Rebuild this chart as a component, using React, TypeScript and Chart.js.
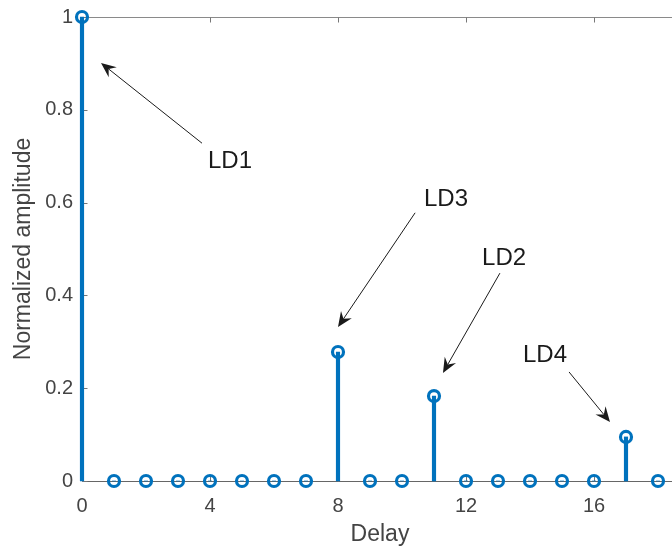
import { useEffect, useRef } from 'react';
import { Chart, registerables } from 'chart.js';

Chart.register(...registerables);

// ---- data ----
const delays = [0, 1, 2, 3, 4, 5, 6, 7, 8, 9, 10, 11, 12, 13, 14, 15, 16, 17, 18];
const amplitudes = [1, 0, 0, 0, 0, 0, 0, 0, 0.278, 0, 0, 0.183, 0, 0, 0, 0, 0, 0.095, 0];

const xTickValues = [0, 4, 8, 12, 16];
const yTickValues = [0, 0.2, 0.4, 0.6, 0.8, 1];
const yTickLabels = ['0', '0.2', '0.4', '0.6', '0.8', '1'];
const xLimits = [0, 18.625];
const yLimits = [0, 1];
const xTitle = 'Delay';
const yTitle = 'Normalized amplitude';

// annotations (data units)
const annotationLabels = ['LD1', 'LD3', 'LD2', 'LD4'];
const annotationTextX = [4.625, 11.375, 13.19, 14.47];
const annotationTextY = [0.692, 0.61, 0.481, 0.272];
const arrowTailX = [3.75, 10.41, 13.06, 15.22];
const arrowTailY = [0.728, 0.578, 0.448, 0.235];
const arrowTipX = [0.594, 8.0, 11.28, 16.5];
const arrowTipY = [0.901, 0.332, 0.233, 0.127];

const STEM = '#0072BD';
const FONT = "'Liberation Sans', Arial, Helvetica, sans-serif";

const axesPlugin = {
  id: 'matlabAxes',
  beforeDatasetsDraw(chart: any) {
    const { ctx, chartArea } = chart;
    const xs = chart.scales.x;
    const ys = chart.scales.y;
    const L = Math.round(chartArea.left) + 0.5;
    const R = Math.round(chartArea.right) - 0.5;
    const T = Math.round(chartArea.top) + 0.5;
    const B = Math.round(chartArea.bottom) + 0.5;
    ctx.save();
    ctx.lineWidth = 1;
    ctx.strokeStyle = '#8a8a8a';
    ctx.beginPath();
    ctx.moveTo(L, T);
    ctx.lineTo(R, T);
    ctx.lineTo(R, B);
    ctx.stroke();
    ctx.strokeStyle = '#666666';
    ctx.beginPath();
    ctx.moveTo(L, T);
    ctx.lineTo(L, B);
    ctx.lineTo(R, B);
    ctx.stroke();
    const tl = 5;
    ctx.strokeStyle = '#777777';
    ctx.beginPath();
    xTickValues.forEach((v) => {
      const px = Math.round(xs.getPixelForValue(v)) + 0.5;
      ctx.moveTo(px, B);
      ctx.lineTo(px, B - tl);
      ctx.moveTo(px, T);
      ctx.lineTo(px, T + tl);
    });
    yTickValues.forEach((v) => {
      const py = Math.round(ys.getPixelForValue(v)) + 0.5;
      ctx.moveTo(L, py);
      ctx.lineTo(L + tl, py);
      ctx.moveTo(R, py);
      ctx.lineTo(R - tl, py);
    });
    ctx.stroke();
    ctx.restore();
  },
  afterDraw(chart: any) {
    const { ctx } = chart;
    const xs = chart.scales.x;
    const ys = chart.scales.y;
    ctx.save();
    annotationLabels.forEach((label, i) => {
      const x0 = xs.getPixelForValue(arrowTailX[i]);
      const y0 = ys.getPixelForValue(arrowTailY[i]);
      const x1 = xs.getPixelForValue(arrowTipX[i]);
      const y1 = ys.getPixelForValue(arrowTipY[i]);
      const ang = Math.atan2(y1 - y0, x1 - x0);
      const headL = 15;
      const headW = 6.5;
      const notch = 0.65 * headL;
      const ca = Math.cos(ang);
      const sa = Math.sin(ang);
      ctx.strokeStyle = '#1a1a1a';
      ctx.lineWidth = 1;
      ctx.beginPath();
      ctx.moveTo(x0, y0);
      ctx.lineTo(x1 - ca * notch, y1 - sa * notch);
      ctx.stroke();
      ctx.fillStyle = '#1a1a1a';
      ctx.beginPath();
      ctx.moveTo(x1, y1);
      ctx.lineTo(x1 - ca * headL - sa * headW, y1 - sa * headL + ca * headW);
      ctx.lineTo(x1 - ca * notch, y1 - sa * notch);
      ctx.lineTo(x1 - ca * headL + sa * headW, y1 - sa * headL - ca * headW);
      ctx.closePath();
      ctx.fill();
      ctx.font = `24px ${FONT}`;
      ctx.textAlign = 'center';
      ctx.textBaseline = 'middle';
      ctx.fillStyle = '#1a1a1a';
      ctx.fillText(label, xs.getPixelForValue(annotationTextX[i]), ys.getPixelForValue(annotationTextY[i]) + 1);
    });
    ctx.restore();
  },
};

export default function App() {
  const canvasRef = useRef<HTMLCanvasElement | null>(null);

  useEffect(() => {
    const canvas = canvasRef.current;
    if (!canvas) return;
    const points = delays.map((d, i) => ({ x: d, y: amplitudes[i] }));
    const chart = new Chart(canvas, {
      type: 'scatter',
      data: {
        datasets: [
          {
            type: 'bar',
            data: points,
            backgroundColor: STEM,
            borderWidth: 0,
            barThickness: 3.5,
            order: 2,
            clip: false,
          } as any,
          {
            type: 'scatter',
            data: points,
            pointStyle: 'circle',
            pointRadius: 5.5,
            pointBorderWidth: 3.2,
            pointBorderColor: STEM,
            pointBackgroundColor: 'rgba(0,0,0,0)',
            pointHoverRadius: 5.5,
            showLine: false,
            order: 1,
            clip: false,
          } as any,
        ],
      },
      options: {
        animation: false,
        responsive: false,
        devicePixelRatio: 1,
        layout: { autoPadding: false, padding: { left: 0, right: 12, top: 17, bottom: 0 } },
        plugins: { legend: { display: false }, tooltip: { enabled: false } },
        scales: {
          x: {
            type: 'linear',
            min: xLimits[0],
            max: xLimits[1],
            offset: false,
            grid: { display: false, drawTicks: false },
            border: { display: false },
            afterBuildTicks: (s: any) => {
              s.ticks = xTickValues.map((v) => ({ value: v }));
            },
            afterFit: (s: any) => {
              s.height = 70;
              s.paddingLeft = 0;
              s.paddingRight = 0;
            },
            ticks: {
              autoSkip: false,
              maxRotation: 0,
              padding: 13,
              color: '#444444',
              font: { family: FONT, size: 20 },
              callback: (v: any) => String(v),
            },
            title: {
              display: true,
              text: xTitle,
              color: '#444444',
              font: { family: FONT, size: 23 },
              padding: { top: 0, bottom: 3 },
            },
          },
          y: {
            type: 'linear',
            min: yLimits[0],
            max: yLimits[1],
            grid: { display: false, drawTicks: false },
            border: { display: false },
            afterBuildTicks: (s: any) => {
              s.ticks = yTickValues.map((v) => ({ value: v }));
            },
            afterFit: (s: any) => {
              s.width = 82;
              s.paddingTop = 0;
              s.paddingBottom = 0;
            },
            ticks: {
              autoSkip: false,
              padding: 9,
              color: '#444444',
              font: { family: FONT, size: 20 },
              callback: (v: any) => {
                const idx = yTickValues.findIndex((t) => Math.abs(t - v) < 1e-9);
                return idx >= 0 ? yTickLabels[idx] : '';
              },
            },
            title: {
              display: true,
              text: yTitle,
              color: '#444444',
              font: { family: FONT, size: 23 },
              padding: { top: 10, bottom: 0 },
            },
          },
        },
      },
      plugins: [axesPlugin],
    });
    return () => chart.destroy();
  }, []);

  return (
    <div
      style={{
        position: 'fixed',
        left: 0,
        top: 0,
        width: 672,
        height: 551,
        overflow: 'hidden',
        background: '#ffffff',
      }}
    >
      <canvas ref={canvasRef} width={690} height={551} style={{ width: 690, height: 551, display: 'block' }} />
    </div>
  );
}
